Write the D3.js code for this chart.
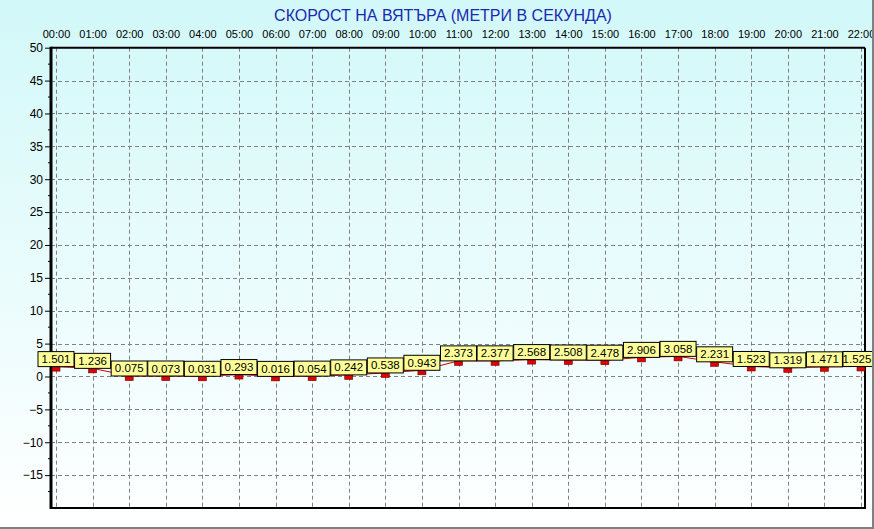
<!DOCTYPE html>
<html><head><meta charset="utf-8">
<script src="https://cdn.jsdelivr.net/npm/d3@7"></script>
<style>html,body{margin:0;padding:0;background:#fff;}svg{display:block;}</style>
</head><body>
<svg id="chart" width="874" height="529"></svg>
<script>
const title = "СКОРОСТ НА ВЯТЪРА (МЕТРИ В СЕКУНДА)";
const hours = ["00:00","01:00","02:00","03:00","04:00","05:00","06:00","07:00","08:00","09:00","10:00","11:00","12:00","13:00","14:00","15:00","16:00","17:00","18:00","19:00","20:00","21:00","22:00"];
const windSpeed = [1.501,1.236,0.075,0.073,0.031,0.293,0.016,0.054,0.242,0.538,0.943,2.373,2.377,2.568,2.508,2.478,2.906,3.058,2.231,1.523,1.319,1.471,1.525];
const yTicks = [-15,-10,-5,0,5,10,15,20,25,30,35,40,45,50];

(function(){
const svg = d3.select("#chart");
const W = 874, H = 529;
const font = "'Liberation Sans', Arial, sans-serif";

const defs = svg.append("defs");
const grad = defs.append("linearGradient").attr("id","bg").attr("x1",0).attr("y1",0).attr("x2",0).attr("y2",1);
grad.append("stop").attr("offset","0%").attr("stop-color","#d2f8f9");
grad.append("stop").attr("offset","100%").attr("stop-color","#ffffff");
svg.append("rect").attr("width",W).attr("height",H).attr("fill","url(#bg)");

const pLeft = 51, pRight = 865, pTop = 47.7, pBottom = 508;
const x = d3.scaleLinear().domain([0, hours.length-1]).range([56, 861]);
const y = d3.scaleLinear().domain([-20, 50]).range([pBottom, pTop]);

// grid
const grid = svg.append("g").attr("stroke","#808080").attr("stroke-width",1).attr("stroke-dasharray","4,3");
grid.selectAll("line.h").data(yTicks.filter(v=>v<50)).join("line").attr("class","h")
  .attr("x1",pLeft).attr("x2",pRight).attr("y1",d=>Math.round(y(d))+0.5).attr("y2",d=>Math.round(y(d))+0.5);
grid.selectAll("line.v").data(hours).join("line").attr("class","v")
  .attr("x1",(d,i)=>Math.round(x(i))+0.5).attr("x2",(d,i)=>Math.round(x(i))+0.5).attr("y1",pTop).attr("y2",pBottom);

// plot frame
svg.append("line").attr("x1",pLeft).attr("x2",pRight).attr("y1",pTop).attr("y2",pTop).attr("stroke","#000").attr("stroke-width",2);
svg.append("line").attr("x1",pRight).attr("x2",pRight).attr("y1",pTop).attr("y2",pBottom).attr("stroke","#000").attr("stroke-width",2);
svg.append("line").attr("x1",pLeft).attr("x2",pRight+1).attr("y1",pBottom).attr("y2",pBottom).attr("stroke","#000").attr("stroke-width",2);

// y axis
const yAxis = d3.axisLeft(y).tickValues(yTicks).tickSize(6).tickPadding(2).tickFormat(d3.format("d"));
const ya = svg.append("g").attr("transform",`translate(${pLeft},0)`).call(yAxis);
ya.select(".domain").remove();
ya.selectAll("text").attr("font-family",font).attr("font-size",12).attr("fill","#000");
ya.selectAll("line").attr("stroke","#000");
const minor = d3.range(-17.5, 50, 5);
svg.append("g").selectAll("line").data(minor).join("line")
  .attr("x1",pLeft-3).attr("x2",pLeft).attr("y1",d=>y(d)).attr("y2",d=>y(d)).attr("stroke","#000");
svg.append("line").attr("x1",pLeft).attr("x2",pLeft).attr("y1",pTop-1).attr("y2",pBottom+1).attr("stroke","#000").attr("stroke-width",3);

// x axis labels on top
const xAxis = d3.axisTop(x).tickValues(d3.range(hours.length)).tickFormat(i=>hours[i]).tickSize(0).tickPadding(0);
const xa = svg.append("g").attr("transform",`translate(0,38)`).call(xAxis);
xa.select(".domain").remove();
xa.selectAll("text").attr("font-family",font).attr("font-size",11).attr("fill","#000").attr("dy",0);

// title
svg.append("text").attr("x",443).attr("y",21).attr("text-anchor","middle")
  .attr("font-family",font).attr("font-size",16).attr("fill","#1a2ab0").text(title);

// line
svg.append("path").datum(windSpeed)
  .attr("d", d3.line().x((d,i)=>x(i)).y(d=>y(d)))
  .attr("fill","none").attr("stroke","#d00000").attr("stroke-width",1);

// markers
svg.append("g").selectAll("rect").data(windSpeed).join("rect")
  .attr("x",(d,i)=>x(i)-4).attr("y",d=>y(d)+0.5).attr("width",8).attr("height",4)
  .attr("fill","#e00000").attr("stroke","#700000").attr("stroke-width",0.6);

// labels
const lbl = svg.append("g").selectAll("g").data(windSpeed).join("g")
  .attr("transform",(d,i)=>`translate(${x(i)},${y(d)})`);
lbl.append("rect").attr("x",-18).attr("y",-15).attr("width",36).attr("height",15)
  .attr("fill","#ffff99").attr("stroke","#000").attr("stroke-width",1);
lbl.append("text").attr("x",(d,i)=>Math.min(x(i),857)-x(i)).attr("y",-3.5).attr("text-anchor","middle")
  .attr("font-family",font).attr("font-size",11.5).attr("fill","#000").text(d=>d.toFixed(3));

// outer frame
svg.append("line").attr("x1",873).attr("x2",873).attr("y1",0).attr("y2",529).attr("stroke","#808080").attr("stroke-width",2);
svg.append("line").attr("x1",0).attr("x2",874).attr("y1",528).attr("y2",528).attr("stroke","#808080").attr("stroke-width",2);
})();
</script>
</body></html>
